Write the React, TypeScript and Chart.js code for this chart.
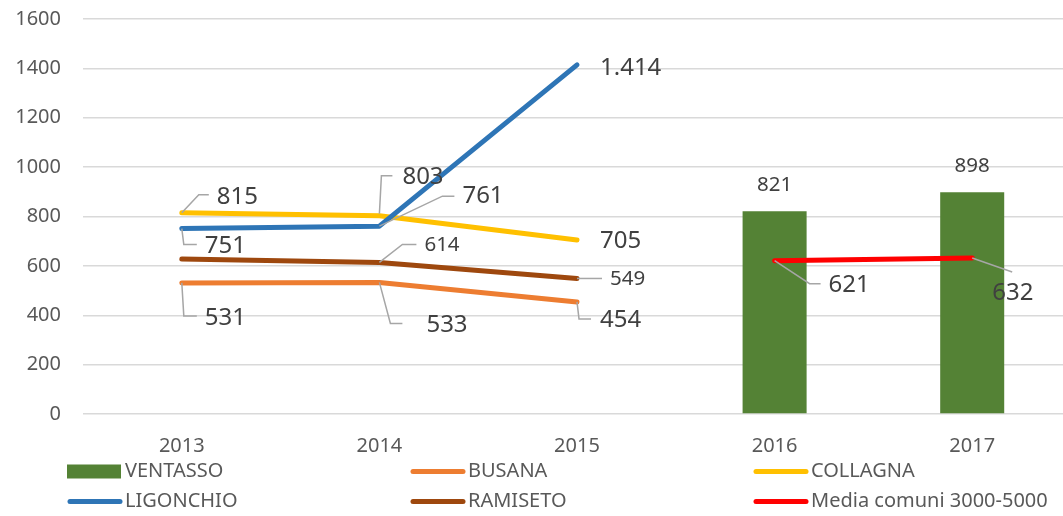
import React, { useEffect, useRef } from "react";
import { Chart, registerables } from "chart.js";

Chart.register(...registerables);

const years = ["2013", "2014", "2015", "2016", "2017"];
const ventasso = [null, null, null, 821, 898];
const busana = [531, 533, 454, null, null];
const collagna = [815, 803, 705, null, null];
const ligonchio = [751, 761, 1414, null, null];
const ramiseto = [628, 614, 549, null, null];
const media = [null, null, null, 621, 632];
const seriesNames = ["VENTASSO", "BUSANA", "COLLAGNA", "LIGONCHIO", "RAMISETO", "Media comuni 3000-5000"];
const seriesColors = ["#548235", "#ED7D31", "#FFC000", "#2E75B6", "#9E480E", "#FF0000"];
const yMax = 1600;
const yStep = 200;

const FONT = "'Noto Sans', 'DejaVu Sans', sans-serif";

// label placement (style/positions): dataset index, point index, text offset, font size, leader path
type LabelSpec = { ds: number; i: number; dx: number; dy: number; size: number; center?: boolean; leader?: number[][] };
const labelSpecs: LabelSpec[] = [
  { ds: 2, i: 0, dx: 35, dy: -16, size: 24, leader: [[0, 0], [17, -18], [27, -18]] },
  { ds: 3, i: 0, dx: 23, dy: 17.5, size: 24, leader: [[0, 0], [2, 16], [15, 16]] },
  { ds: 1, i: 0, dx: 23, dy: 35, size: 24, leader: [[0, 0], [2, 33], [15, 33]] },
  { ds: 2, i: 1, dx: 23, dy: -39, size: 24, leader: [[0, -2], [2, -40], [13, -40]] },
  { ds: 3, i: 1, dx: 83, dy: -30, size: 24, leader: [[0, 0], [63, -30], [75, -30]] },
  { ds: 4, i: 1, dx: 45, dy: -17, size: 20.5, leader: [[0, 0], [23, -18], [37, -18]] },
  { ds: 1, i: 1, dx: 47, dy: 43, size: 24, leader: [[0, 0], [11, 41], [23, 41]] },
  { ds: 3, i: 2, dx: 23, dy: 3, size: 24 },
  { ds: 2, i: 2, dx: 23, dy: 1, size: 24 },
  { ds: 4, i: 2, dx: 33, dy: 1, size: 20.5, leader: [[0, 0], [25, 0]] },
  { ds: 1, i: 2, dx: 23, dy: 18, size: 24, leader: [[0, 0], [2, 17], [14, 17]] },
  { ds: 0, i: 3, dx: 0, dy: -26, size: 20.5, center: true },
  { ds: 0, i: 4, dx: 0, dy: -26, size: 20.5, center: true },
  { ds: 5, i: 3, dx: 54, dy: 24, size: 24, leader: [[0, 0], [35, 23], [46, 23]] },
  { ds: 5, i: 4, dx: 20, dy: 35, size: 24, leader: [[0, 0], [40, 14]] },
];

function fmt(v: number): string {
  const s = String(Math.round(v));
  return s.replace(/\B(?=(\d{3})+(?!\d))/g, ".");
}

const labelPlugin = {
  id: "customLabels",
  afterDatasetsDraw(chart: any) {
    const ctx = chart.ctx;
    ctx.save();
    for (const spec of labelSpecs) {
      const meta = chart.getDatasetMeta(spec.ds);
      const el = meta.data[spec.i];
      const v = chart.data.datasets[spec.ds].data[spec.i];
      if (!el || v == null) continue;
      const x = el.x;
      const y = el.y;
      if (spec.leader) {
        ctx.beginPath();
        ctx.strokeStyle = "#A6A6A6";
        ctx.lineWidth = 1.5;
        spec.leader.forEach((p, k) => {
          if (k === 0) ctx.moveTo(x + p[0], y + p[1]);
          else ctx.lineTo(x + p[0], y + p[1]);
        });
        ctx.stroke();
      }
      ctx.fillStyle = "#404040";
      ctx.font = `${spec.size}px ${FONT}`;
      ctx.textBaseline = "middle";
      ctx.textAlign = spec.center ? "center" : "left";
      ctx.fillText(fmt(v as number), x + spec.dx, y + spec.dy);
    }
    ctx.restore();
  },
};

const legendPlugin = {
  id: "customLegend",
  afterDraw(chart: any) {
    const ctx = chart.ctx;
    const cols = [67, 410, 753];
    const base = chart.chartArea.bottom;
    const rows = [base + 57.5, base + 87.5];
    ctx.save();
    chart.data.datasets.forEach((ds: any, k: number) => {
      const x = cols[k % 3];
      const y = rows[Math.floor(k / 3)];
      if (ds.type === "bar") {
        ctx.fillStyle = ds.backgroundColor;
        ctx.fillRect(x, y - 7, 54, 14);
      } else {
        ctx.beginPath();
        ctx.strokeStyle = ds.borderColor;
        ctx.lineWidth = 5;
        ctx.lineCap = "round";
        ctx.moveTo(x + 3, y);
        ctx.lineTo(x + 53, y);
        ctx.stroke();
      }
      ctx.fillStyle = "#595959";
      ctx.font = `20px ${FONT}`;
      ctx.textBaseline = "middle";
      ctx.textAlign = "left";
      ctx.fillText(ds.label, x + 58, y);
    });
    ctx.restore();
  },
};

export default function App() {
  const ref = useRef<HTMLCanvasElement>(null);
  useEffect(() => {
    document.body.style.margin = "0";
    const canvas = ref.current!;
    const lineSeries = [busana, collagna, ligonchio, ramiseto, media];
    const orders = [5, 4, 2, 3, 1];
    const chart = new Chart(canvas, {
      data: {
        labels: years,
        datasets: [
          {
            type: "bar",
            label: seriesNames[0],
            data: ventasso,
            backgroundColor: seriesColors[0],
            barPercentage: 0.324,
            categoryPercentage: 1,
            order: 6,
          } as any,
          ...lineSeries.map((d, k) => ({
            type: "line",
            label: seriesNames[k + 1],
            data: d,
            borderColor: seriesColors[k + 1],
            backgroundColor: seriesColors[k + 1],
            borderWidth: 5,
            borderCapStyle: "round",
            borderJoinStyle: "round",
            pointRadius: 0,
            tension: 0,
            spanGaps: false,
            order: orders[k],
          })),
        ],
      } as any,
      options: {
        animation: false,
        responsive: false,
        layout: { padding: { top: 3, left: 0, right: 0, bottom: 0 } },
        plugins: {
          legend: { display: false },
          tooltip: { enabled: false },
        },
        scales: {
          x: {
            grid: { display: false },
            border: { display: false },
            ticks: { color: "#595959", font: { family: FONT, size: 20 }, padding: 12 },
            afterFit: (s: any) => {
              s.height = 102;
            },
          },
          y: {
            min: 0,
            max: yMax,
            grid: { color: "#D9D9D9", lineWidth: 1.5, drawTicks: false },
            border: { display: false },
            ticks: {
              stepSize: yStep,
              color: "#595959",
              font: { family: FONT, size: 20 },
              padding: 22,
              callback: (v: any) => String(v),
            },
            afterFit: (s: any) => {
              s.width = 83;
            },
          },
        },
      } as any,
      plugins: [labelPlugin, legendPlugin],
    });
    return () => chart.destroy();
  }, []);
  return (
    <div style={{ width: 1063, height: 516, overflow: "hidden", background: "#fff" }}>
      <canvas ref={ref} width={1071} height={531} style={{ display: "block", marginTop: -15 }} />
    </div>
  );
}
